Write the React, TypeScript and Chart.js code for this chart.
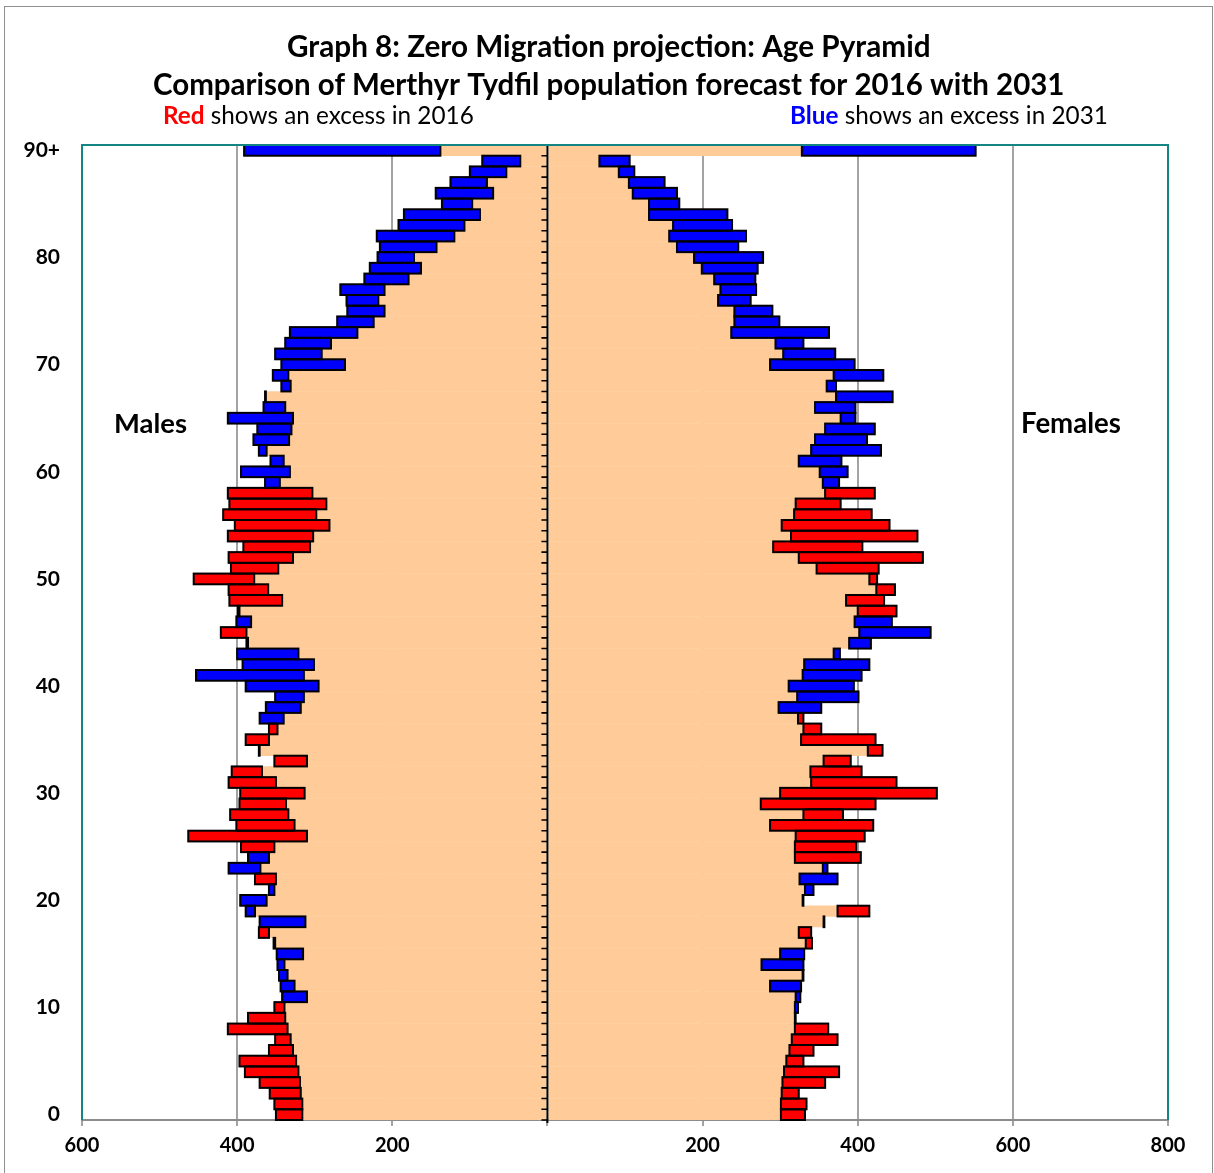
import React, { useEffect, useRef } from 'react';
import { Chart, registerables } from 'chart.js';

Chart.register(...registerables);

const FONT = 'Lato, "Open Sans", sans-serif';

const ageLabels = [
  '0', '1', '2', '3', '4', '5', '6', '7', '8', '9',
  '10', '11', '12', '13', '14', '15', '16', '17', '18', '19',
  '20', '21', '22', '23', '24', '25', '26', '27', '28', '29',
  '30', '31', '32', '33', '34', '35', '36', '37', '38', '39',
  '40', '41', '42', '43', '44', '45', '46', '47', '48', '49',
  '50', '51', '52', '53', '54', '55', '56', '57', '58', '59',
  '60', '61', '62', '63', '64', '65', '66', '67', '68', '69',
  '70', '71', '72', '73', '74', '75', '76', '77', '78', '79',
  '80', '81', '82', '83', '84', '85', '86', '87', '88', '89',
  '90+',
];

// Males, population by single year of age (0 .. 90+)
const male2016 = [
  350, 352, 358, 371, 390, 397, 359, 351, 412, 386,
  352, 310, 326, 335, 339, 315, 353, 372, 312, 377,
  362, 352, 377, 370, 359, 395, 463, 401, 409, 397,
  396, 411, 407, 352, 372, 389, 359, 340, 318, 314,
  295, 314, 301, 321, 386, 421, 382, 399, 410, 411,
  456, 408, 411, 392, 412, 403, 418, 410, 412, 345,
  332, 340, 362, 333, 330, 328, 338, 363, 331, 334,
  261, 291, 279, 245, 224, 210, 218, 210, 179, 163,
  172, 143, 120, 107, 87, 97, 70, 78, 53, 35,
  138,
];
const male2031 = [
  316, 316, 318, 319, 321, 324, 328, 331, 335, 338,
  339, 342, 344, 346, 348, 349, 351, 359, 371, 389,
  396, 359, 350, 411, 386, 352, 310, 326, 334, 337,
  313, 350, 368, 310, 371, 359, 348, 371, 363, 351,
  389, 453, 393, 400, 388, 388, 401, 397, 342, 360,
  378, 347, 328, 306, 302, 281, 298, 285, 303, 364,
  395, 357, 372, 379, 374, 412, 366, 364, 343, 354,
  343, 351, 338, 332, 271, 258, 259, 267, 236, 229,
  219, 216, 220, 192, 185, 136, 144, 125, 100, 84,
  391,
];

// Females, population by single year of age (0 .. 90+)
const female2016 = [
  332, 334, 324, 358, 376, 330, 343, 374, 362, 320,
  319, 320, 287, 329, 276, 300, 341, 340, 357, 415,
  330, 332, 325, 355, 404, 398, 409, 420, 381, 423,
  502, 450, 405, 391, 432, 423, 353, 330, 298, 322,
  311, 329, 331, 369, 389, 402, 396, 450, 434, 448,
  425, 427, 484, 406, 477, 441, 418, 378, 422, 355,
  351, 324, 340, 345, 358, 378, 345, 372, 360, 369,
  287, 304, 294, 237, 241, 241, 220, 223, 215, 199,
  189, 167, 157, 162, 131, 131, 110, 105, 92, 67,
  328,
];
const female2031 = [
  301, 301, 302, 303, 305, 308, 312, 315, 319, 319,
  323, 326, 327, 330, 330, 331, 333, 324, 356, 374,
  329, 343, 374, 361, 319, 319, 320, 287, 330, 275,
  300, 340, 339, 356, 413, 327, 330, 323, 353, 401,
  395, 405, 415, 377, 417, 494, 444, 400, 385, 424,
  415, 347, 324, 291, 314, 302, 318, 320, 358, 376,
  387, 379, 430, 412, 422, 397, 397, 445, 372, 433,
  396, 371, 330, 363, 299, 290, 262, 269, 268, 271,
  278, 246, 256, 238, 232, 170, 167, 151, 112, 106,
  552,
];

const titleLines = [
  'Graph 8: Zero Migration projection: Age Pyramid',
  'Comparison of Merthyr Tydfil population forecast for 2016 with 2031',
];
const redNote = ['Red', ' shows an excess in 2016'];
const blueNote = ['Blue', ' shows an excess in 2031'];
const sideLabels = ['Males', 'Females'];

const BEIGE = '#FFCC99';
const RED = '#FF0000';
const BLUE = '#0000FF';
const TEAL = '#138585';
const GRID = '#a3a3a3';

type Part = { text: string; weight: string; color: string };

function drawParts(ctx: CanvasRenderingContext2D, parts: Part[], left: number, baseline: number, base: number, target: number) {
  let w = 0;
  for (const p of parts) {
    ctx.font = `${p.weight} ${base}px ${FONT}`;
    w += ctx.measureText(p.text).width;
  }
  const size = (base * target) / w;
  let x = left;
  ctx.textBaseline = 'alphabetic';
  ctx.textAlign = 'left';
  for (const p of parts) {
    ctx.font = `${p.weight} ${size}px ${FONT}`;
    ctx.fillStyle = p.color;
    ctx.fillText(p.text, x, baseline);
    x += ctx.measureText(p.text).width;
  }
}

const decorPlugin = {
  id: 'pyramidDecor',
  afterDatasetsDraw(chart: any) {
    const { ctx, chartArea } = chart;
    const { left, right, top, bottom } = chartArea;
    ctx.save();
    ctx.beginPath();
    ctx.rect(left, top, right - left, bottom - top + 2);
    ctx.clip();
    ctx.strokeStyle = '#000';
    ctx.lineWidth = 2;
    chart.data.datasets.forEach((ds: any, di: number) => {
      if (!ds.outlined) return;
      const meta = chart.getDatasetMeta(di);
      meta.data.forEach((el: any) => {
        const p = el.getProps(['x', 'y', 'base', 'height'], true);
        const l = Math.min(p.x, p.base);
        const r = Math.max(p.x, p.base);
        ctx.strokeRect(l, p.y - p.height / 2, Math.max(r - l, 0.5), p.height);
      });
    });
    ctx.restore();

    // centre axis with tick marks
    const x0 = chart.scales.x.getPixelForValue(0);
    ctx.save();
    ctx.strokeStyle = '#000';
    ctx.lineWidth = 2;
    ctx.beginPath();
    ctx.moveTo(x0, top);
    ctx.lineTo(x0, bottom + 3);
    ctx.stroke();
    ctx.lineWidth = 1.6;
    const n = ageLabels.length;
    const step = (bottom - top) / n;
    ctx.beginPath();
    for (let i = 0; i <= n; i++) {
      const y = top + i * step;
      ctx.moveTo(x0 - 6, y);
      ctx.lineTo(x0, y);
    }
    ctx.stroke();
    ctx.restore();
  },
  afterDraw(chart: any) {
    const { ctx, chartArea } = chart;
    const { left, right, top, bottom } = chartArea;
    ctx.save();
    // plot border (left, top, right)
    ctx.strokeStyle = TEAL;
    ctx.lineWidth = 2;
    ctx.beginPath();
    ctx.moveTo(left, bottom);
    ctx.lineTo(left, top);
    ctx.lineTo(right, top);
    ctx.lineTo(right, bottom);
    ctx.stroke();

    // outer frame
    ctx.strokeStyle = '#8f8f8f';
    ctx.lineWidth = 1;
    ctx.strokeRect(4.5, 6.5, 1208, 1180);

    drawParts(ctx, [{ text: titleLines[0], weight: 'bold', color: '#000' }], 287, 57, 26, 644);
    drawParts(ctx, [{ text: titleLines[1], weight: 'bold', color: '#000' }], 153, 95, 26, 912);
    drawParts(ctx, [
      { text: redNote[0], weight: 'bold', color: RED },
      { text: redNote[1], weight: 'normal', color: '#000' },
    ], 163, 124, 22, 311);
    drawParts(ctx, [
      { text: blueNote[0], weight: 'bold', color: BLUE },
      { text: blueNote[1], weight: 'normal', color: '#000' },
    ], 790, 124, 22, 318);
    drawParts(ctx, [{ text: sideLabels[0], weight: 'bold', color: '#000' }], 114, 433, 24, 73);
    drawParts(ctx, [{ text: sideLabels[1], weight: 'bold', color: '#000' }], 1021, 433, 24, 100);
    ctx.restore();
  },
};

export default function App() {
  const canvasRef = useRef<HTMLCanvasElement | null>(null);

  useEffect(() => {
    const canvas = canvasRef.current;
    if (!canvas) return;

    const maleMin = male2016.map((v, i) => Math.min(v, male2031[i]));
    const maleMax = male2016.map((v, i) => Math.max(v, male2031[i]));
    const femaleMin = female2016.map((v, i) => Math.min(v, female2031[i]));
    const femaleMax = female2016.map((v, i) => Math.max(v, female2031[i]));
    const maleColors = male2016.map((v, i) => (v > male2031[i] ? RED : BLUE));
    const femaleColors = female2016.map((v, i) => (v > female2031[i] ? RED : BLUE));

    const chart = new Chart(canvas, {
      type: 'bar',
      data: {
        labels: ageLabels,
        datasets: [
          {
            label: 'Males common',
            data: maleMin.map((v) => [0, -v]) as any,
            backgroundColor: BEIGE,
            borderWidth: 0,
            barPercentage: 1.04,
            categoryPercentage: 1,
            grouped: false,
            order: 2,
          } as any,
          {
            label: 'Females common',
            data: femaleMin.map((v) => [0, v]) as any,
            backgroundColor: BEIGE,
            borderWidth: 0,
            barPercentage: 1.04,
            categoryPercentage: 1,
            grouped: false,
            order: 2,
          } as any,
          {
            label: 'Males difference',
            data: maleMin.map((v, i) => [-v, -maleMax[i]]) as any,
            backgroundColor: maleColors,
            borderWidth: 0,
            barPercentage: 1,
            categoryPercentage: 1,
            grouped: false,
            order: 1,
            outlined: true,
          } as any,
          {
            label: 'Females difference',
            data: femaleMin.map((v, i) => [v, femaleMax[i]]) as any,
            backgroundColor: femaleColors,
            borderWidth: 0,
            barPercentage: 1,
            categoryPercentage: 1,
            grouped: false,
            order: 1,
            outlined: true,
          } as any,
        ],
      },
      options: {
        animation: false,
        responsive: false,
        maintainAspectRatio: false,
        devicePixelRatio: 1,
        indexAxis: 'y',
        layout: { padding: { left: 0, top: 145, right: 46, bottom: 0 } },
        plugins: {
          legend: { display: false },
          tooltip: { enabled: false },
          title: { display: false },
        },
        scales: {
          x: {
            type: 'linear',
            min: -600,
            max: 800,
            position: 'bottom',
            ticks: {
              stepSize: 200,
              autoSkip: false,
              maxRotation: 0,
              padding: 8,
              color: '#000',
              font: { family: FONT, size: 20, weight: 'bold' },
              callback: (v: any) => (Number(v) === 0 ? '' : String(Math.abs(Number(v)))),
            },
            grid: {
              color: (c: any) => (c.tick && c.tick.value === 0 ? 'rgba(0,0,0,0)' : GRID),
              lineWidth: 2,
              drawTicks: true,
              tickLength: 6,
              tickColor: GRID,
            },
            border: { display: true, color: '#8c8c8c', width: 2 },
            afterFit: (s: any) => {
              s.height = 53;
            },
          },
          y: {
            type: 'category',
            reverse: true,
            offset: true,
            ticks: {
              autoSkip: false,
              padding: 22,
              color: '#000',
              font: { family: FONT, size: 21, weight: 'bold' },
              callback: (v: any) => (Number(v) % 10 === 0 ? ageLabels[Number(v)] : ''),
            },
            grid: { display: false, drawTicks: false },
            border: { display: false },
            afterFit: (s: any) => {
              s.width = 82;
            },
          },
        },
      } as any,
      plugins: [decorPlugin],
    });

    return () => {
      chart.destroy();
    };
  }, []);

  return (
    <div style={{ position: 'absolute', left: 0, top: 0, width: 1214, height: 1173, background: '#fff' }}>
      <canvas ref={canvasRef} width={1214} height={1173} style={{ width: 1214, height: 1173, display: 'block' }} />
    </div>
  );
}
